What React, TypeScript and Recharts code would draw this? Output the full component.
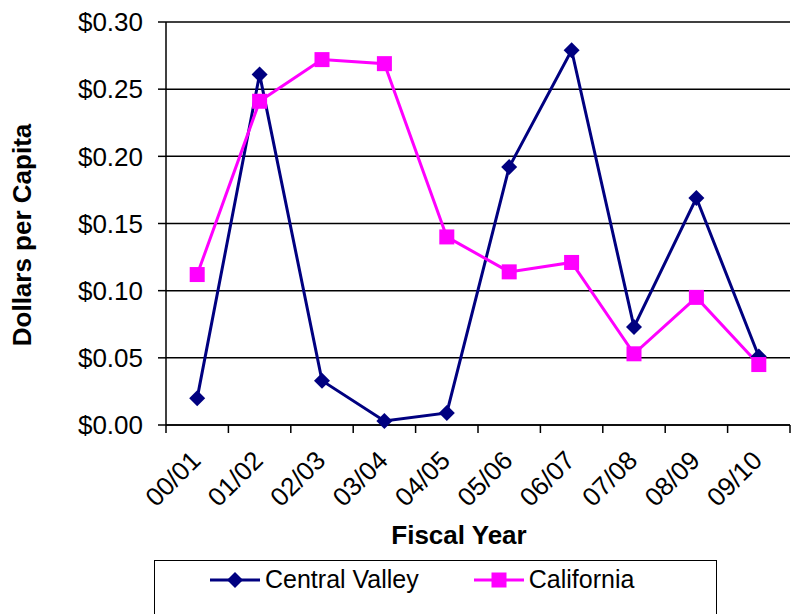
import React from 'react';
import {
  LineChart,
  Line,
  XAxis,
  YAxis,
  CartesianGrid,
} from 'recharts';

const years = ['00/01', '01/02', '02/03', '03/04', '04/05', '05/06', '06/07', '07/08', '08/09', '09/10'];
const centralValley = [0.02, 0.261, 0.033, 0.003, 0.009, 0.192, 0.279, 0.073, 0.169, 0.051];
const california = [0.112, 0.241, 0.272, 0.269, 0.14, 0.114, 0.121, 0.053, 0.095, 0.045];
const yTicks = [0, 0.05, 0.1, 0.15, 0.2, 0.25, 0.3];

const chartData = years.map((year, i) => ({
  year,
  centralValley: centralValley[i],
  california: california[i],
}));

const FONT = 'Arial, "Liberation Sans", sans-serif';
const NAVY = '#000080';
const MAGENTA = '#FF00FF';

const WIDTH = 793;
const HEIGHT = 614;
const PLOT_LEFT = 166;
const PLOT_RIGHT = 790;
const PLOT_TOP = 22;
const PLOT_BOTTOM = 425;
const BAND = (PLOT_RIGHT - PLOT_LEFT) / years.length;

function Diamond({ cx, cy }: any) {
  if (cx == null || cy == null) return null;
  const r = 8;
  return (
    <path
      d={`M${cx},${cy - r} L${cx + r},${cy} L${cx},${cy + r} L${cx - r},${cy} Z`}
      fill={NAVY}
    />
  );
}

function Square({ cx, cy }: any) {
  if (cx == null || cy == null) return null;
  const r = 7.5;
  return <rect x={cx - r} y={cy - r} width={r * 2} height={r * 2} fill={MAGENTA} />;
}

// Excel puts tick marks between categories, labels rotated at the centre
function XTick({ x, payload, index }: any) {
  const left = x - BAND / 2;
  const ax = x + 5;
  const ay = PLOT_BOTTOM + 37;
  return (
    <g>
      <line x1={left} y1={PLOT_BOTTOM} x2={left} y2={PLOT_BOTTOM + 8} stroke="#000" strokeWidth={1.5} />
      {index === years.length - 1 && (
        <line x1={x + BAND / 2} y1={PLOT_BOTTOM} x2={x + BAND / 2} y2={PLOT_BOTTOM + 8} stroke="#000" strokeWidth={1.5} />
      )}
      <text
        x={ax}
        y={ay}
        transform={`rotate(-45, ${ax}, ${ay})`}
        textAnchor="end"
        fontFamily={FONT}
        fontSize={26}
        fill="#000"
      >
        {payload.value}
      </text>
    </g>
  );
}

function LegendItem({ color, label, square }: { color: string; label: string; square?: boolean }) {
  return (
    <div style={{ display: 'flex', alignItems: 'center' }}>
      <svg width={52} height={20} style={{ marginRight: 4 }}>
        <line x1={1} y1={10} x2={51} y2={10} stroke={color} strokeWidth={3} />
        {square ? (
          <rect x={18.5} y={2.5} width={15} height={15} fill={color} />
        ) : (
          <path d="M26,2 L34,10 L26,18 L18,10 Z" fill={color} />
        )}
      </svg>
      <span style={{ fontFamily: FONT, fontSize: 25, color: '#000' }}>{label}</span>
    </div>
  );
}

export default function App() {
  return (
    <div
      style={{
        position: 'absolute',
        left: 0,
        top: 0,
        width: WIDTH,
        height: HEIGHT,
        overflow: 'hidden',
        background: '#fff',
      }}
    >
      <LineChart
        width={WIDTH}
        height={HEIGHT}
        data={chartData}
        margin={{ top: PLOT_TOP, right: WIDTH - PLOT_RIGHT, bottom: 0, left: 0 }}
      >
        <CartesianGrid vertical={false} stroke="#000" strokeWidth={1.5} />
        <XAxis
          dataKey="year"
          scale="band"
          height={HEIGHT - PLOT_BOTTOM}
          tickLine={false}
          axisLine={{ stroke: '#000', strokeWidth: 1.5 }}
          tick={<XTick />}
          interval={0}
          label={{
            content: () => (
              <text x={459} y={544} textAnchor="middle" fontFamily={FONT} fontSize={26} fontWeight="bold" fill="#000">
                Fiscal Year
              </text>
            ),
          }}
        />
        <YAxis
          width={PLOT_LEFT}
          domain={[0, 0.3]}
          ticks={yTicks}
          interval={0}
          tickSize={8}
          tickMargin={15}
          tickFormatter={(v: number) => `$${v.toFixed(2)}`}
          tick={{ fill: '#000', fontSize: 26, fontFamily: FONT }}
          tickLine={{ stroke: '#000', strokeWidth: 1.5 }}
          axisLine={{ stroke: '#000', strokeWidth: 1.5 }}
          label={{
            content: () => (
              <text
                x={31}
                y={235}
                transform="rotate(-90, 31, 235)"
                textAnchor="middle"
                fontFamily={FONT}
                fontSize={26}
                fontWeight="bold"
                fill="#000"
              >
                Dollars per Capita
              </text>
            ),
          }}
        />
        <Line
          type="linear"
          dataKey="centralValley"
          name="Central Valley"
          stroke={NAVY}
          strokeWidth={3}
          dot={<Diamond />}
          activeDot={false}
          isAnimationActive={false}
        />
        <Line
          type="linear"
          dataKey="california"
          name="California"
          stroke={MAGENTA}
          strokeWidth={3}
          dot={<Square />}
          activeDot={false}
          isAnimationActive={false}
        />
      </LineChart>
      <div
        style={{
          position: 'absolute',
          left: 154,
          top: 560,
          width: 563,
          height: 70,
          border: '1.5px solid #000',
          display: 'flex',
          alignItems: 'flex-start',
          paddingTop: 4,
          boxSizing: 'border-box',
        }}
      >
        <div style={{ marginLeft: 54, display: 'flex', gap: 54 }}>
          <LegendItem color={NAVY} label="Central Valley" />
          <LegendItem color={MAGENTA} label="California" square />
        </div>
      </div>
    </div>
  );
}
